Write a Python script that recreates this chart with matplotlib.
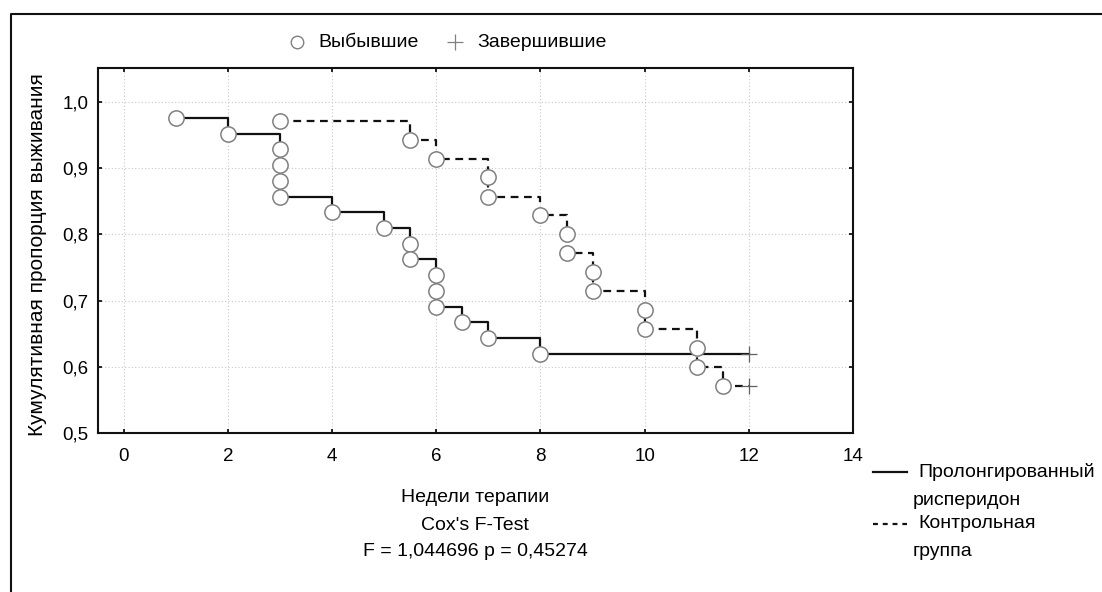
import matplotlib
matplotlib.use("Agg")
import matplotlib.pyplot as plt
from matplotlib.lines import Line2D
from matplotlib.ticker import FuncFormatter

plt.rcParams['font.family'] = ['Liberation Sans', 'DejaVu Sans']

# Пролонгированный рисперидон (выбывшие)
solid_times = [1, 2, 3, 3, 3, 3, 4, 5, 5.5, 5.5, 6, 6, 6, 6.5, 7, 8]
solid_surv = [0.976, 0.952, 0.929, 0.905, 0.881, 0.857, 0.833, 0.810,
              0.786, 0.762, 0.738, 0.714, 0.690, 0.667, 0.643, 0.619]
# Контрольная группа (выбывшие)
dash_times = [3, 5.5, 6, 7, 7, 8, 8.5, 8.5, 9, 9, 10, 10, 11, 11, 11.5]
dash_surv = [0.971, 0.943, 0.914, 0.886, 0.857, 0.829, 0.800, 0.771,
             0.743, 0.714, 0.686, 0.657, 0.629, 0.600, 0.571]
# завершившие
cens_time = 12
solid_cens = 0.619
dash_cens = 0.571

xticks = [0, 2, 4, 6, 8, 10, 12, 14]
yticks = [0.5, 0.6, 0.7, 0.8, 0.9, 1.0]

fs = 14

fig = plt.figure(figsize=(11.02, 5.92), dpi=100)
ax = fig.add_axes([0.0889, 0.2686, 0.685, 0.6165])

# шаговые линии
ax.step(solid_times + [cens_time], solid_surv + [solid_cens], where='post',
        color='#111111', lw=1.6, zorder=2)
ax.step(dash_times + [cens_time], dash_surv + [dash_cens], where='post',
        color='#111111', lw=1.6, dashes=(3.5, 2.5), zorder=2)

# кружки - выбывшие
ax.plot(solid_times, solid_surv, 'o', ms=11, mfc='white', mec='#808080', mew=1.1,
        ls='none', zorder=3)
ax.plot(dash_times, dash_surv, 'o', ms=11, mfc='white', mec='#808080', mew=1.1,
        ls='none', zorder=3)
# плюсы - завершившие
ax.plot([cens_time, cens_time], [solid_cens, dash_cens], '+', ms=11,
        mec='#606060', mew=0.9, ls='none', zorder=3)

ax.set_xlim(-0.5, 14)
ax.set_ylim(0.5, 1.051)
ax.set_xticks(xticks)
ax.set_yticks(yticks)
ax.yaxis.set_major_formatter(FuncFormatter(lambda v, p: f"{v:.1f}".replace('.', ',')))
ax.grid(True, color='#c8c8c8', ls=(0, (1, 2)), lw=0.8)
ax.set_axisbelow(True)
ax.tick_params(direction='in', length=3, width=1.2, top=True, right=True,
               labelsize=13.5)
ax.tick_params(axis='x', pad=11)
ax.tick_params(axis='y', pad=7)
for s in ax.spines.values():
    s.set_linewidth(1.5)
    s.set_color('#111111')

ax.set_ylabel('Кумулятивная пропорция выживания', fontsize=15)
ax.yaxis.set_label_coords(-0.068, 0.49)

cx = 0.431
fig.text(cx, 0.159, 'Недели терапии', ha='center', va='center', fontsize=fs)
fig.text(cx, 0.113, "Cox's F-Test", ha='center', va='center', fontsize=fs)
fig.text(cx, 0.0676, 'F = 1,044696 p = 0,45274', ha='center', va='center', fontsize=fs)

# верхняя легенда
fig.add_artist(Line2D([0.2695], [0.929], marker='o', ms=9, mfc='white', mec='#808080',
                      mew=1.0, ls='none', transform=fig.transFigure))
fig.text(0.2886, 0.929, 'Выбывшие', ha='left', va='center', fontsize=fs)
fig.add_artist(Line2D([0.4129], [0.929], marker='+', ms=11, mec='#808080',
                      mew=0.9, ls='none', transform=fig.transFigure))
fig.text(0.4328, 0.929, 'Завершившие', ha='left', va='center', fontsize=fs)

# правая легенда
fig.add_artist(Line2D([0.792, 0.823], [0.2027, 0.2027], color='#111111', lw=1.6,
                      transform=fig.transFigure))
fig.text(0.833, 0.2027, 'Пролонгированный', ha='left', va='center', fontsize=fs)
fig.text(0.8285, 0.1554, 'рисперидон', ha='left', va='center', fontsize=fs)
fig.add_artist(Line2D([0.792, 0.823], [0.1149, 0.1149], color='#111111', lw=1.6,
                      dashes=(2.2, 2.2), transform=fig.transFigure))
fig.text(0.833, 0.1149, 'Контрольная', ha='left', va='center', fontsize=fs)
fig.text(0.8285, 0.0676, 'группа', ha='left', va='center', fontsize=fs)

# рамка
fig.add_artist(Line2D([0.01, 0.01, 1.0], [0.0, 0.976, 0.976], color='#111111',
                      lw=1.5, transform=fig.transFigure))

fig.savefig('out.png', dpi=100)
